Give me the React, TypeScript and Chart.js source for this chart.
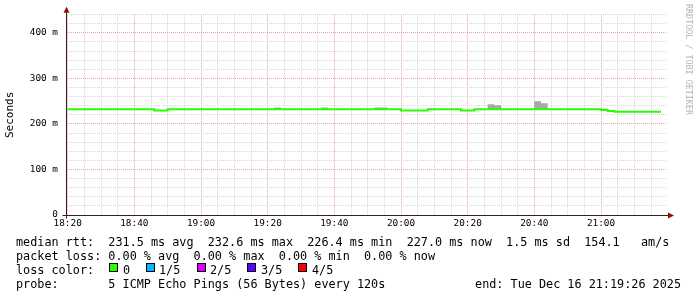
import React, { useEffect, useRef } from 'react';
import { Chart, registerables } from 'chart.js';

Chart.register(...registerables);

// ---- data (time in minutes after midnight, values in ms) ----
const X_MIN = 1099.8; // left edge of graph (about 18:19:48)
const X_MAX = 1279.8; // right edge of graph (about 21:19:48)
const SAMPLE_START = 1100; // 18:20, first 2-minute sample
const SAMPLE_STEP = 2; // minutes between samples
const X_TICK_LABELS = ['18:20', '18:40', '19:00', '19:20', '19:40', '20:00', '20:20', '20:40', '21:00'];
const Y_TICK_LABELS = ['0', '100 m', '200 m', '300 m', '400 m'];
const Y_MAX = 440;

const MEDIAN_RTT = [
  232, 232, 232, 232, 232, 232, 232, 232, 232, 232,
  232, 232, 232, 229.6, 229.6, 232, 232, 232, 232, 232,
  232, 232, 232, 232, 232, 232, 232, 232, 232, 232,
  232, 232, 232, 232, 232, 232, 232, 232, 232, 232,
  232, 232, 232, 232, 232, 232, 232, 232, 232, 232,
  229.6, 229.6, 229.6, 229.6, 232, 232, 232, 232, 232, 229.6,
  229.6, 232, 232, 232, 232, 232, 232, 232, 232, 232,
  232, 232, 232, 232, 232, 232, 232, 232, 232, 232,
  230.4, 228.6, 226.6, 226.6, 226.6, 226.6, 226.6, 226.6, 226.6,
];

const SMOKE_MAX = [
  232, 232, 232, 232, 232, 232, 232, 232, 232, 232,
  232, 232, 232, 229.6, 229.6, 232, 232, 232, 232, 232,
  232, 232, 232, 232, 232, 232, 232, 232, 232, 232,
  232, 236, 232, 232, 232, 232, 232, 232, 236, 232,
  232, 232, 232, 232, 232, 232, 236, 236, 232, 232,
  229.6, 229.6, 229.6, 229.6, 232, 232, 232, 232, 232, 229.6,
  229.6, 232, 232, 243, 240.8, 232, 232, 232, 232, 232,
  249.6, 245.2, 232, 232, 232, 232, 232, 232, 232, 232,
  230.4, 228.6, 226.6, 226.6, 226.6, 226.6, 226.6, 226.6, 226.6,
];

const LOSS_LABELS = ['0', '1/5', '2/5', '3/5', '4/5'];
const LOSS_COLORS = ['#26ff00', '#00b8ff', '#dd00ff', '#5e00ff', '#ff0000'];

const STAT_LINE_RTT = 'median rtt:  231.5 ms avg  232.6 ms max  226.4 ms min  227.0 ms now  1.5 ms sd  154.1   am/s';
const STAT_LINE_LOSS = 'packet loss: 0.00 % avg  0.00 % max  0.00 % min  0.00 % now';
const PROBE_LINE = 'probe:       5 ICMP Echo Pings (56 Bytes) every 120s';
const END_LINE = 'end: Tue Dec 16 21:19:26 2025';
const WATERMARK = 'RRDTOOL / TOBI OETIKER';

// ---- styling ----
const MONO = "'DejaVu Sans Mono', monospace";
const GREEN = '#26ff00';
const SMOKE = '#a8a8a8';
const MINOR_GRID = '#d4d4d4';
const MAJOR_GRID = '#e8a4a4';
const AXIS_COLOR = '#3a1a1a';
const ARROW_COLOR = '#8b1010';

const toMinutes = (s: string) => {
  const [h, m] = s.split(':').map(Number);
  return h * 60 + m;
};

const toPoints = (arr: number[]) => {
  const pts = arr.map((v, i) => ({ x: SAMPLE_START + i * SAMPLE_STEP, y: v }));
  pts.push({ x: SAMPLE_START + arr.length * SAMPLE_STEP, y: arr[arr.length - 1] });
  return pts;
};

const axesPlugin = {
  id: 'rrdAxes',
  afterDatasetsDraw(chart: any) {
    const { ctx, chartArea } = chart;
    const x0 = Math.round(chartArea.left) - 0.5;
    const y0 = Math.round(chartArea.bottom) + 0.5;
    ctx.save();
    ctx.strokeStyle = AXIS_COLOR;
    ctx.lineWidth = 1;
    ctx.beginPath();
    ctx.moveTo(x0 - 4, y0);
    ctx.lineTo(chartArea.right + 2, y0);
    ctx.moveTo(x0, y0 + 3);
    ctx.lineTo(x0, chartArea.top - 3);
    ctx.stroke();
    ctx.fillStyle = ARROW_COLOR;
    ctx.beginPath();
    ctx.moveTo(chartArea.right + 1, y0 - 3);
    ctx.lineTo(chartArea.right + 7, y0);
    ctx.lineTo(chartArea.right + 1, y0 + 3);
    ctx.closePath();
    ctx.fill();
    ctx.beginPath();
    ctx.moveTo(x0 - 3, chartArea.top - 2);
    ctx.lineTo(x0, chartArea.top - 8);
    ctx.lineTo(x0 + 3, chartArea.top - 2);
    ctx.closePath();
    ctx.fill();
    ctx.restore();
  },
};

const ChartCanvas: React.FC = () => {
  const ref = useRef<HTMLCanvasElement | null>(null);

  useEffect(() => {
    if (!ref.current) return;
    const xTicks: number[] = [];
    for (let v = Math.ceil(X_MIN / 5) * 5; v <= X_MAX; v += 5) xTicks.push(v);
    const yTicks: number[] = [];
    for (let v = 0; v <= Y_MAX; v += 20) yTicks.push(v);
    const xLabelMap = new Map(X_TICK_LABELS.map((l) => [toMinutes(l), l]));

    const chart = new Chart(ref.current, {
      type: 'line',
      data: {
        datasets: [
          {
            label: 'median',
            data: toPoints(MEDIAN_RTT),
            borderColor: GREEN,
            borderWidth: 2,
            stepped: 'before',
            pointRadius: 0,
            fill: false,
          },
          {
            label: 'smoke',
            data: toPoints(SMOKE_MAX),
            borderColor: 'rgba(0,0,0,0)',
            borderWidth: 0,
            backgroundColor: SMOKE,
            stepped: 'before',
            pointRadius: 0,
            fill: '-1',
          },
        ],
      },
      options: {
        responsive: false,
        animation: false,
        events: [],
        layout: { padding: { top: 14, right: 30, bottom: 0, left: 0 } },
        plugins: { legend: { display: false }, tooltip: { enabled: false } },
        scales: {
          x: {
            type: 'linear',
            min: X_MIN,
            max: X_MAX,
            afterBuildTicks: (scale: any) => {
              scale.ticks = xTicks.map((v) => ({ value: v }));
            },
            afterFit: (scale: any) => {
              scale.height = 82;
            },
            grid: {
              drawTicks: false,
              color: (c: any) => (c.tick && Math.round(c.tick.value) % 20 === 0 ? MAJOR_GRID : MINOR_GRID),
              lineWidth: 1,
            },
            border: { display: false, dash: [1, 1] },
            ticks: {
              autoSkip: false,
              maxRotation: 0,
              padding: 3,
              color: '#000',
              font: { family: MONO, size: 9.4 },
              callback: (v: any) => xLabelMap.get(Math.round(Number(v))) ?? '',
            },
          },
          y: {
            type: 'linear',
            min: 0,
            max: Y_MAX,
            afterBuildTicks: (scale: any) => {
              scale.ticks = yTicks.map((v) => ({ value: v }));
            },
            afterFit: (scale: any) => {
              scale.width = 67;
            },
            grid: {
              drawTicks: false,
              color: (c: any) => (c.tick && c.tick.value % 100 === 0 ? MAJOR_GRID : MINOR_GRID),
              lineWidth: 1,
            },
            border: { display: false, dash: [1, 1] },
            title: {
              display: true,
              text: 'Seconds',
              color: '#000',
              font: { family: MONO, size: 11 },
              padding: { top: 4, bottom: 0 },
            },
            ticks: {
              autoSkip: false,
              padding: 9,
              color: '#000',
              font: { family: MONO, size: 9.4 },
              callback: (v: any) => (Number(v) % 100 === 0 ? Y_TICK_LABELS[Number(v) / 100] ?? '' : ''),
            },
          },
        },
      },
      plugins: [axesPlugin],
    } as any);
    return () => chart.destroy();
  }, []);

  return <canvas ref={ref} width={697} height={297} style={{ position: 'absolute', left: 0, top: 0 }} />;
};

const textStyle: React.CSSProperties = {
  position: 'absolute',
  fontFamily: MONO,
  fontSize: '11.8px',
  lineHeight: '14px',
  whiteSpace: 'pre',
  color: '#000',
};

const LOSS_BOX_X = [109, 146, 197, 247, 298];
const LOSS_TEXT_X = [123, 159, 210, 261, 312];

export default function App() {
  return (
    <div style={{ position: 'absolute', left: 0, top: 0, width: 697, height: 297, background: '#fff', overflow: 'hidden' }}>
      <ChartCanvas />
      <div style={{ ...textStyle, left: 16, top: 235 }}>{STAT_LINE_RTT}</div>
      <div style={{ ...textStyle, left: 16, top: 249 }}>{STAT_LINE_LOSS}</div>
      <div style={{ ...textStyle, left: 16, top: 263 }}>loss color:</div>
      {LOSS_LABELS.map((l, i) => (
        <React.Fragment key={l}>
          <div
            style={{
              position: 'absolute',
              left: LOSS_BOX_X[i],
              top: 263,
              width: 7,
              height: 7,
              background: LOSS_COLORS[i],
              border: '1px solid #000',
            }}
          />
          <div style={{ ...textStyle, left: LOSS_TEXT_X[i], top: 263 }}>{l}</div>
        </React.Fragment>
      ))}
      <div style={{ ...textStyle, left: 16, top: 277 }}>{PROBE_LINE}</div>
      <div style={{ ...textStyle, right: 697 - 681, top: 277 }}>{END_LINE}</div>
      <div
        style={{
          position: 'absolute',
          left: 684,
          top: 4,
          width: 10,
          writingMode: 'vertical-rl',
          fontFamily: MONO,
          fontSize: '8.4px',
          lineHeight: '10px',
          color: '#b4b4b4',
          whiteSpace: 'pre',
        }}
      >
        {WATERMARK}
      </div>
    </div>
  );
}
